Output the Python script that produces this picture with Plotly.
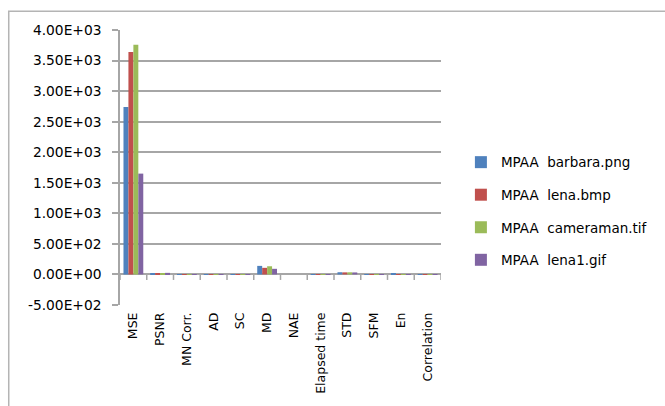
import plotly.graph_objects as go

# Image quality metrics for the MPAA method on four test images
metrics = ["MSE", "PSNR", "MN Corr.", "AD", "SC", "MD", "NAE",
           "Elapsed time", "STD", "SFM", "En", "Correlation"]

barbara = [2740, 23.8, 0.97, 0.8, 1.02, 140, 0.12, 1.2, 36, 2.1, 7.4, 0.98]
lena_bmp = [3640, 22.5, 0.96, 1.1, 1.04, 108, 0.13, 1.1, 34, 1.9, 7.3, 0.97]
cameraman = [3760, 22.4, 0.95, 0.9, 1.05, 134, 0.14, 1.3, 35, 2.2, 7.0, 0.97]
lena_gif = [1650, 26.0, 0.98, 0.6, 1.01, 92, 0.09, 1.0, 33, 1.8, 7.2, 0.99]

series_names = ["MPAA\u00a0 barbara.png", "MPAA\u00a0 lena.bmp",
                "MPAA\u00a0 cameraman.tif", "MPAA\u00a0 lena1.gif"]
series_values = [barbara, lena_bmp, cameraman, lena_gif]
colors = ["#4F81BD", "#C0504D", "#9BBB59", "#8064A2"]

y_ticks = [-500, 0, 500, 1000, 1500, 2000, 2500, 3000, 3500, 4000]
y_tick_text = ["-5.00E+02", "0.00E+00", "5.00E+02", "1.00E+03", "1.50E+03",
               "2.00E+03", "2.50E+03", "3.00E+03", "3.50E+03", "4.00E+03"]

FONT = "DejaVu Sans"
GRID = "#A6A6A6"

fig = go.Figure()
for name, vals, col in zip(series_names, series_values, colors):
    fig.add_trace(go.Bar(x=metrics, y=vals, name=name, marker_color=col,
                         marker_line_width=0, legendgroup=name))

# category boundary tick marks hanging below the zero line (~5 px)
shapes = []
tick_depth = 90
for k in range(len(metrics) + 1):
    shapes.append(dict(type="line", xref="x", yref="y",
                       x0=k - 0.5, x1=k - 0.5, y0=0, y1=-tick_depth,
                       line=dict(color=GRID, width=1.5)))

# chart area border
shapes.append(dict(type="rect", xref="paper", yref="paper",
                   x0=-0.3466, x1=2.0, y0=-0.6, y1=1.068,
                   line=dict(color="#B4B4B4", width=1.5), layer="below"))

fig.update_layout(
    width=665, height=406,
    margin=dict(l=120, r=219, t=30, b=97),
    paper_bgcolor="white", plot_bgcolor="white",
    barmode="group", bargap=0.26, bargroupgap=0,
    font=dict(family=FONT, size=12, color="#000000"),
    shapes=shapes,
    legend=dict(x=1.062, y=0.575, xanchor="left", yanchor="top",
                font=dict(family=FONT, size=13.5, color="#000000"),
                traceorder="grouped", tracegroupgap=12,
                bgcolor="rgba(0,0,0,0)"),
    showlegend=True,
)

fig.update_xaxes(
    type="category", tickangle=-90, showgrid=False, showline=False,
    ticks="", ticklabelstandoff=4, zeroline=False,
    tickfont=dict(family=FONT, size=12.5, color="#000000"),
    range=[-0.5, len(metrics) - 0.5],
)
fig.update_yaxes(
    range=[-500, 4000], tickvals=y_ticks, ticktext=y_tick_text,
    showgrid=True, gridcolor=GRID, gridwidth=1.5,
    showline=True, linecolor=GRID, linewidth=1.5,
    ticks="outside", ticklen=6, tickcolor=GRID, tickwidth=1.5,
    ticklabelstandoff=8,
    zeroline=True, zerolinecolor=GRID, zerolinewidth=1.5,
    tickfont=dict(family=FONT, size=13.8, color="#000000"),
)

fig.write_html("out.html")
